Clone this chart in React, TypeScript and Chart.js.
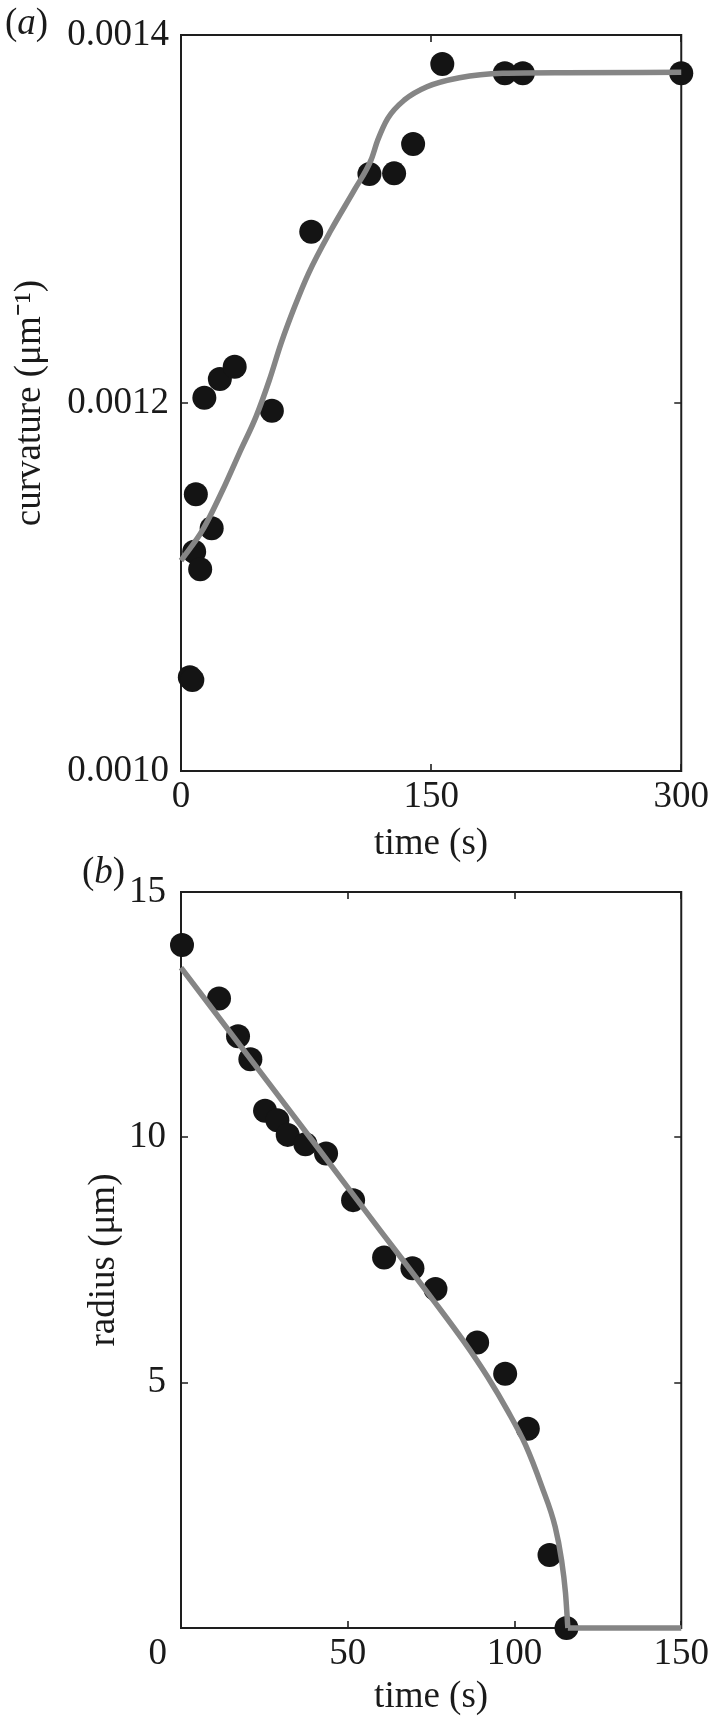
import { useEffect, useRef } from 'react';
import { Chart, registerables } from 'chart.js';

Chart.register(...registerables);

// ---------- Panel (a): curvature vs time ----------
const curvTimes = [5.3, 6.8, 7.9, 8.9, 11.5, 14.0, 18.4, 23.3, 32.2, 54.5, 78.1, 113.0, 127.8, 139.2, 156.7, 194.2, 205.0, 300];
const curvValues = [0.001051, 0.0010495, 0.0011192, 0.0011504, 0.0011096, 0.0012029, 0.0011319, 0.001213, 0.0012197, 0.0011958, 0.0012931, 0.0013245, 0.0013248, 0.0013408, 0.0013842, 0.0013792, 0.0013792, 0.0013792];
const curvFitTimes = [0, 13, 25, 35, 45, 53, 60, 68, 76.5, 90, 104, 114, 118, 124, 134, 147.5, 167, 193, 230, 300];
const curvFitValues = [0.0011143, 0.001131, 0.0011527, 0.0011728, 0.0011926, 0.0012125, 0.0012324, 0.001252, 0.0012705, 0.001294, 0.0013158, 0.0013321, 0.0013429, 0.0013547, 0.0013647, 0.0013719, 0.0013768, 0.0013792, 0.0013795, 0.0013797];
const curvXTicks = [0, 150, 300];
const curvXTickLabels = ['0', '150', '300'];
const curvYTicks = [0.001, 0.0012, 0.0014];
const curvYTickLabels = ['0.0010', '0.0012', '0.0014'];

// ---------- Panel (b): radius vs time ----------
const radTimes = [0.3, 11.4, 17.1, 20.8, 25.2, 28.9, 32.0, 37.3, 43.5, 51.6, 60.9, 69.4, 76.3, 88.8, 97.2, 104.0, 110.5, 115.6];
const radValues = [13.92, 12.83, 12.06, 11.59, 10.54, 10.35, 10.05, 9.86, 9.67, 8.72, 7.55, 7.33, 6.91, 5.82, 5.18, 4.06, 1.49, 0];
const radFitTimes = [0, 20, 40, 60, 75, 85, 92, 98, 103.3, 108.2, 112.2, 114.1, 115.3, 116];
const radFitValues = [13.46, 11.67, 9.88, 8.08, 6.74, 5.82, 5.11, 4.42, 3.73, 2.88, 2.06, 1.39, 0.71, 0];
const radTailTimes = [116, 150];
const radTailValues = [0, 0];
const radXTicks = [0, 50, 100, 150];
const radXTickLabels = ['', '50', '100', '150'];
const radOriginLabel = '0';
const radYTicks = [0, 5, 10, 15];
const radYTickLabels = ['', '5', '10', '15'];

const SERIF = "'Liberation Serif', 'Times New Roman', Times, serif";
const TEXT = '#1a1a1a';
const AXIS = '#1e1e1e';
const MARKER = '#141414';
const CURVE = '#858585';
const TICK_FONT = 37;
const TITLE_FONT = 37;
const TICK_LEN = 7;

const toPts = (xs: number[], ys: number[]) => xs.map((x, i) => ({ x, y: ys[i] }));

const frameTicksPlugin = {
  id: 'frameTicks',
  beforeDatasetsDraw(chart: any) {
    const { ctx, chartArea: a } = chart;
    const xs = chart.scales.x;
    const ys = chart.scales.y;
    ctx.save();
    ctx.strokeStyle = AXIS;
    ctx.lineWidth = 2;
    ctx.strokeRect(a.left, a.top, a.right - a.left, a.bottom - a.top);
    ctx.lineWidth = 1.6;
    ctx.beginPath();
    for (const t of xs.ticks) {
      const p = Math.round(xs.getPixelForValue(t.value));
      ctx.moveTo(p, a.top);
      ctx.lineTo(p, a.top + TICK_LEN);
      ctx.moveTo(p, a.bottom);
      ctx.lineTo(p, a.bottom - TICK_LEN);
    }
    for (const t of ys.ticks) {
      const p = Math.round(ys.getPixelForValue(t.value));
      ctx.moveTo(a.left, p);
      ctx.lineTo(a.left + TICK_LEN, p);
      ctx.moveTo(a.right, p);
      ctx.lineTo(a.right - TICK_LEN, p);
    }
    ctx.stroke();
    ctx.restore();
  },
};

const panelLabelPlugin = {
  id: 'panelLabel',
  afterDraw(chart: any, _args: any, o: any) {
    const { ctx, chartArea: a } = chart;
    ctx.save();
    ctx.fillStyle = TEXT;
    ctx.textBaseline = 'alphabetic';
    ctx.textAlign = 'left';
    let x = o.x;
    ctx.font = `${TITLE_FONT}px ${SERIF}`;
    ctx.fillText('(', x, o.y);
    x += ctx.measureText('(').width;
    ctx.font = `italic ${TITLE_FONT}px ${SERIF}`;
    ctx.fillText(o.letter, x, o.y);
    x += ctx.measureText(o.letter).width;
    ctx.font = `${TITLE_FONT}px ${SERIF}`;
    ctx.fillText(')', x, o.y);
    if (o.origin) {
      ctx.font = `${TICK_FONT}px ${SERIF}`;
      ctx.textAlign = 'right';
      ctx.textBaseline = 'middle';
      ctx.fillText(o.origin, a.left - 14, a.bottom + o.originDy);
    }
    ctx.restore();
  },
};

interface PanelSpec {
  canvasHeight: number;
  padTop: number;
  plotBottom: number;
  xMin: number;
  xMax: number;
  yMin: number;
  yMax: number;
  xTicks: number[];
  xTickLabels: string[];
  yTicks: number[];
  yTickLabels: string[];
  yTickPad: number;
  yTitle: string;
  yTitlePad: number;
  letter: string;
  letterX: number;
  letterY: number;
  origin?: string;
  datasets: any[];
}

function buildConfig(p: PanelSpec): any {
  const tickFont = { family: SERIF, size: TICK_FONT, lineHeight: 1 };
  const titleFont = { family: SERIF, size: TITLE_FONT, lineHeight: 1 };
  return {
    type: 'scatter',
    data: { datasets: p.datasets },
    plugins: [frameTicksPlugin, panelLabelPlugin],
    options: {
      animation: false,
      responsive: false,
      maintainAspectRatio: false,
      events: [],
      layout: { padding: { top: p.padTop, right: 29, bottom: 0, left: 0 } },
      plugins: {
        legend: { display: false },
        tooltip: { enabled: false },
        panelLabel: { letter: p.letter, x: p.letterX, y: p.letterY, origin: p.origin, originDy: 26 },
      },
      scales: {
        x: {
          type: 'linear',
          min: p.xMin,
          max: p.xMax,
          afterBuildTicks: (s: any) => {
            s.ticks = p.xTicks.map((v) => ({ value: v }));
          },
          afterFit: (s: any) => {
            s.height = p.canvasHeight - p.plotBottom;
          },
          grid: { display: false, drawTicks: false },
          border: { display: false },
          ticks: {
            font: tickFont,
            color: TEXT,
            padding: 8,
            maxRotation: 0,
            minRotation: 0,
            autoSkip: false,
            callback: (v: number) => {
              const i = p.xTicks.findIndex((t) => Math.abs(t - v) < 1e-9);
              return i >= 0 ? p.xTickLabels[i] : '';
            },
          },
          title: { display: true, text: 'time (s)', font: titleFont, color: TEXT, padding: 0 },
        },
        y: {
          type: 'linear',
          min: p.yMin,
          max: p.yMax,
          afterBuildTicks: (s: any) => {
            s.ticks = p.yTicks.map((v) => ({ value: v }));
          },
          afterFit: (s: any) => {
            s.width = 181;
          },
          grid: { display: false, drawTicks: false },
          border: { display: false },
          ticks: {
            font: tickFont,
            color: TEXT,
            padding: p.yTickPad,
            autoSkip: false,
            callback: (v: number) => {
              const i = p.yTicks.findIndex((t) => Math.abs(t - v) < 1e-12);
              return i >= 0 ? p.yTickLabels[i] : '';
            },
          },
          title: { display: true, text: p.yTitle, font: titleFont, color: TEXT, padding: { top: p.yTitlePad, bottom: 0 } },
        },
      },
    },
  };
}

const curveStyle = {
  type: 'line',
  borderColor: CURVE,
  borderWidth: 5.5,
  pointRadius: 0,
  fill: false,
  clip: false,
  borderCapStyle: 'butt',
  borderJoinStyle: 'round',
  order: 0,
};

const markerStyle = {
  type: 'scatter',
  pointRadius: 12,
  pointBackgroundColor: MARKER,
  pointBorderColor: MARKER,
  pointBorderWidth: 0,
  clip: false,
  order: 1,
};

const panelA: PanelSpec = {
  canvasHeight: 863,
  padTop: 35,
  plotBottom: 771,
  xMin: 0,
  xMax: 300,
  yMin: 0.001,
  yMax: 0.0014,
  xTicks: curvXTicks,
  xTickLabels: curvXTickLabels,
  yTicks: curvYTicks,
  yTickLabels: curvYTickLabels,
  yTickPad: 12,
  yTitle: 'curvature (\u03bcm\u207b\u00b9)',
  yTitlePad: 12,
  letter: 'a',
  letterX: 5,
  letterY: 34,
  datasets: [
    { ...curveStyle, cubicInterpolationMode: 'monotone', data: toPts(curvFitTimes, curvFitValues) },
    { ...markerStyle, data: toPts(curvTimes, curvValues) },
  ],
};

const panelB: PanelSpec = {
  canvasHeight: 866,
  padTop: 42,
  plotBottom: 778,
  xMin: 0,
  xMax: 150,
  yMin: 0,
  yMax: 15,
  xTicks: radXTicks,
  xTickLabels: radXTickLabels,
  yTicks: radYTicks,
  yTickLabels: radYTickLabels,
  yTickPad: 15,
  yTitle: 'radius (\u03bcm)',
  yTitlePad: 86,
  letter: 'b',
  letterX: 82,
  letterY: 33,
  origin: radOriginLabel,
  datasets: [
    { ...curveStyle, cubicInterpolationMode: 'monotone', data: toPts(radFitTimes, radFitValues) },
    { ...curveStyle, tension: 0, data: toPts(radTailTimes, radTailValues) },
    { ...markerStyle, data: toPts(radTimes, radValues) },
  ],
};

function Panel({ spec, top }: { spec: PanelSpec; top: number }) {
  const ref = useRef<HTMLCanvasElement | null>(null);
  useEffect(() => {
    if (!ref.current) return;
    const chart = new Chart(ref.current, buildConfig(spec));
    return () => chart.destroy();
  }, [spec]);
  return (
    <div style={{ position: 'absolute', left: 0, top, width: 717, height: spec.canvasHeight }}>
      <canvas ref={ref} width={717} height={spec.canvasHeight} style={{ display: 'block', width: 717, height: spec.canvasHeight }} />
    </div>
  );
}

export default function App() {
  return (
    <div style={{ position: 'absolute', left: 0, top: 0, width: 717, height: 1716, background: '#ffffff' }}>
      <Panel spec={panelA} top={0} />
      <Panel spec={panelB} top={850} />
    </div>
  );
}
